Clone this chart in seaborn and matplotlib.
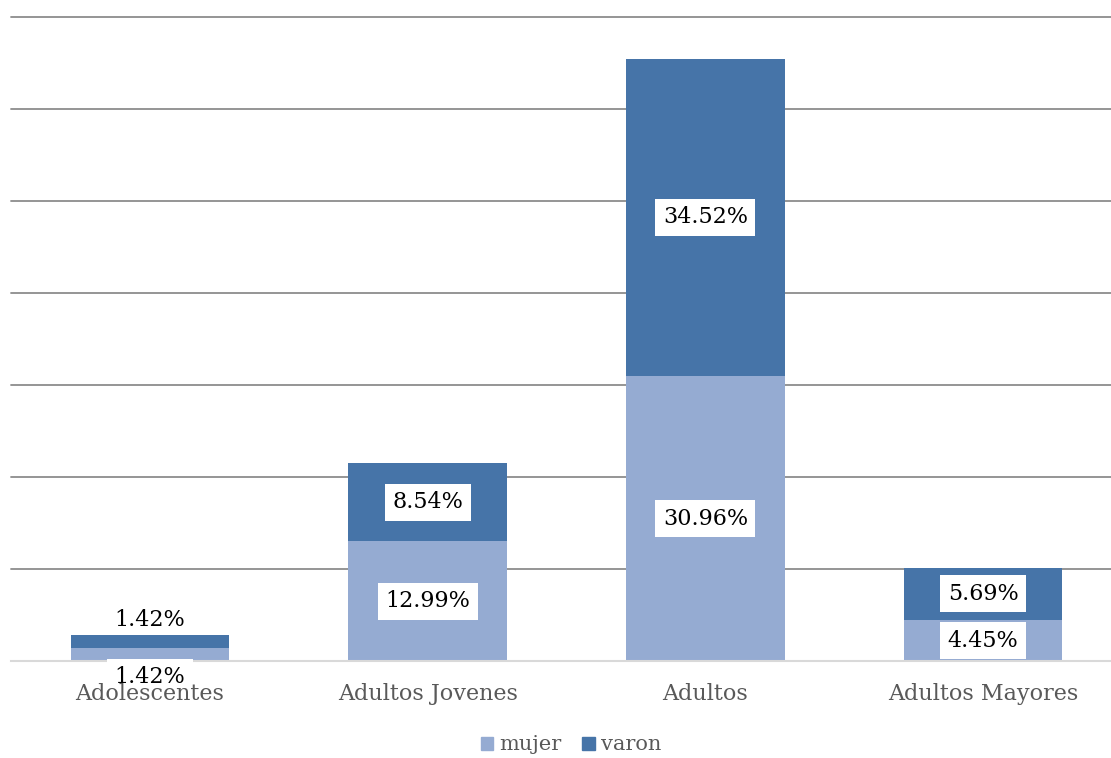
import pandas as pd
import seaborn as sns
import matplotlib.pyplot as plt
from matplotlib.patches import Patch

sns.set_style("white")
plt.rcParams['font.family'] = ['DejaVu Serif']

# Datos
categorias = ["Adolescentes", "Adultos Jovenes", "Adultos", "Adultos Mayores"]
mujer = [1.42, 12.99, 30.96, 4.45]
varon = [1.42, 8.54, 34.52, 5.69]

df = pd.DataFrame({"grupo": categorias, "mujer": mujer, "varon": varon})
df["total"] = df["mujer"] + df["varon"]

c_mujer = "#95abd2"
c_varon = "#4674a8"

fig = plt.figure(figsize=(11.11, 7.58), dpi=100)
ax = fig.add_axes([11 / 1111, 97 / 758, 1111 / 1111, 644 / 758])

sns.barplot(data=df, x="grupo", y="total", color=c_varon, width=0.57,
            saturation=1, linewidth=0, ax=ax, zorder=2)
sns.barplot(data=df, x="grupo", y="mujer", color=c_mujer, width=0.57,
            saturation=1, linewidth=0, ax=ax, zorder=2)

ax.set_ylim(0, 70)
ax.set_xlim(-0.5, 3.5)
ax.set_yticks(range(10, 71, 10))
ax.yaxis.grid(True, color="#8c8c8c", linewidth=1.3)
for gl in ax.get_ygridlines():
    gl.set_clip_on(False)
ax.set_axisbelow(True)
ax.xaxis.set_zorder(6)  # etiquetas del eje x por encima de las cajas
ax.tick_params(axis="y", left=False, labelleft=False)
ax.tick_params(axis="x", bottom=False, labelsize=16, labelcolor="#595959", pad=12)
for s in ["top", "right", "left"]:
    ax.spines[s].set_visible(False)
ax.spines["bottom"].set_color("#d9d9d9")
ax.spines["bottom"].set_linewidth(1.5)
ax.spines["bottom"].set_zorder(2.1)
ax.set_xlabel("")
ax.set_ylabel("")

caja = dict(facecolor="white", edgecolor="none", pad=5.5)
for i, (m, v) in enumerate(zip(mujer, varon)):
    caja_v = caja
    if i == 0:
        y_m, y_v = -1.75, m + v + 1.6
        caja_v = None
    else:
        y_m, y_v = m / 2, m + v / 2
    ax.text(i, y_m, f"{m:.2f}%", ha="center", va="center", fontsize=16,
            color="black", bbox=caja, zorder=5, clip_on=False)
    ax.text(i, y_v, f"{v:.2f}%", ha="center", va="center", fontsize=16,
            color="black", bbox=caja_v, zorder=5, clip_on=False)

handles = [Patch(color=c_mujer, label="mujer"), Patch(color=c_varon, label="varon")]
fig.legend(handles=handles, loc="center", bbox_to_anchor=(571 / 1111, 1 - 745 / 758),
           ncol=2, frameon=False, fontsize=15, handlelength=0.6, handleheight=0.6,
           handletextpad=0.3, columnspacing=1.0, labelcolor="#595959")

fig.savefig("out.png", dpi=100)
